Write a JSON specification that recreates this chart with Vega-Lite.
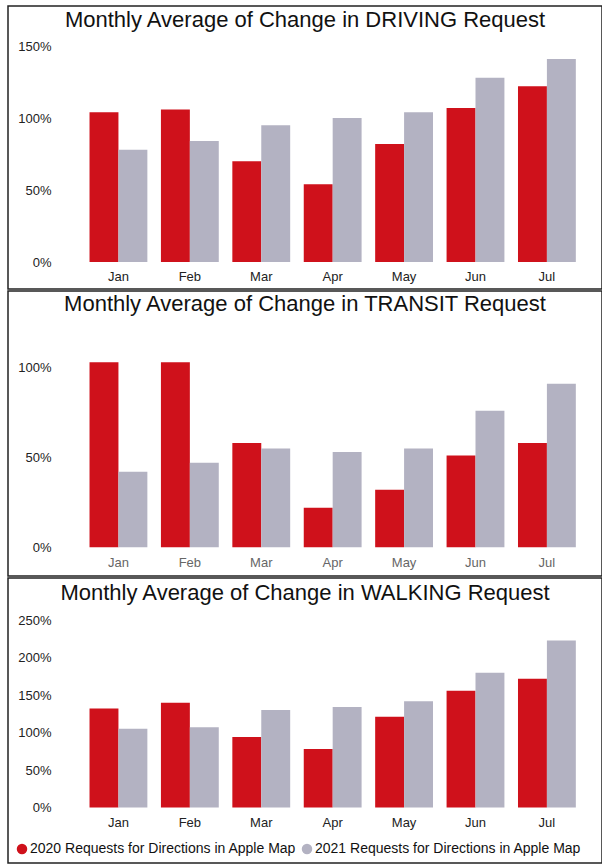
{
  "$schema": "https://vega.github.io/schema/vega-lite/v6.json",
  "background": "white",
  "padding": {"left": 7, "top": 5, "right": 0, "bottom": 2},
  "spacing": 0,
  "config": {
    "font": "Liberation Sans",
    "view": {"stroke": "#222", "strokeWidth": 1.5},
    "title": {"fontSize": 22, "fontWeight": "normal", "color": "#111", "anchor": "middle", "frame": "group", "baseline": "middle"},
    "axis": {"labelFont": "Liberation Sans", "labelColor": "#222", "labelFontSize": 13, "ticks": false, "tickSize": 0, "domain": false, "grid": false, "title": null},
    "bar": {"stroke": null}
  },
  "resolve": {"legend": {"color": "independent"}},
  "datasets": {
    "driving": [
      {"month": "Jan", "series": "2020 Requests for Directions in Apple Map", "value": 104},
      {"month": "Jan", "series": "2021 Requests for Directions in Apple Map", "value": 78},
      {"month": "Feb", "series": "2020 Requests for Directions in Apple Map", "value": 106},
      {"month": "Feb", "series": "2021 Requests for Directions in Apple Map", "value": 84},
      {"month": "Mar", "series": "2020 Requests for Directions in Apple Map", "value": 70},
      {"month": "Mar", "series": "2021 Requests for Directions in Apple Map", "value": 95},
      {"month": "Apr", "series": "2020 Requests for Directions in Apple Map", "value": 54},
      {"month": "Apr", "series": "2021 Requests for Directions in Apple Map", "value": 100},
      {"month": "May", "series": "2020 Requests for Directions in Apple Map", "value": 82},
      {"month": "May", "series": "2021 Requests for Directions in Apple Map", "value": 104},
      {"month": "Jun", "series": "2020 Requests for Directions in Apple Map", "value": 107},
      {"month": "Jun", "series": "2021 Requests for Directions in Apple Map", "value": 128},
      {"month": "Jul", "series": "2020 Requests for Directions in Apple Map", "value": 122},
      {"month": "Jul", "series": "2021 Requests for Directions in Apple Map", "value": 141}
    ],
    "transit": [
      {"month": "Jan", "series": "2020 Requests for Directions in Apple Map", "value": 103},
      {"month": "Jan", "series": "2021 Requests for Directions in Apple Map", "value": 42},
      {"month": "Feb", "series": "2020 Requests for Directions in Apple Map", "value": 103},
      {"month": "Feb", "series": "2021 Requests for Directions in Apple Map", "value": 47},
      {"month": "Mar", "series": "2020 Requests for Directions in Apple Map", "value": 58},
      {"month": "Mar", "series": "2021 Requests for Directions in Apple Map", "value": 55},
      {"month": "Apr", "series": "2020 Requests for Directions in Apple Map", "value": 22},
      {"month": "Apr", "series": "2021 Requests for Directions in Apple Map", "value": 53},
      {"month": "May", "series": "2020 Requests for Directions in Apple Map", "value": 32},
      {"month": "May", "series": "2021 Requests for Directions in Apple Map", "value": 55},
      {"month": "Jun", "series": "2020 Requests for Directions in Apple Map", "value": 51},
      {"month": "Jun", "series": "2021 Requests for Directions in Apple Map", "value": 76},
      {"month": "Jul", "series": "2020 Requests for Directions in Apple Map", "value": 58},
      {"month": "Jul", "series": "2021 Requests for Directions in Apple Map", "value": 91}
    ],
    "walking": [
      {"month": "Jan", "series": "2020 Requests for Directions in Apple Map", "value": 132},
      {"month": "Jan", "series": "2021 Requests for Directions in Apple Map", "value": 105},
      {"month": "Feb", "series": "2020 Requests for Directions in Apple Map", "value": 140},
      {"month": "Feb", "series": "2021 Requests for Directions in Apple Map", "value": 107},
      {"month": "Mar", "series": "2020 Requests for Directions in Apple Map", "value": 94},
      {"month": "Mar", "series": "2021 Requests for Directions in Apple Map", "value": 130},
      {"month": "Apr", "series": "2020 Requests for Directions in Apple Map", "value": 78},
      {"month": "Apr", "series": "2021 Requests for Directions in Apple Map", "value": 134},
      {"month": "May", "series": "2020 Requests for Directions in Apple Map", "value": 121},
      {"month": "May", "series": "2021 Requests for Directions in Apple Map", "value": 142},
      {"month": "Jun", "series": "2020 Requests for Directions in Apple Map", "value": 156},
      {"month": "Jun", "series": "2021 Requests for Directions in Apple Map", "value": 180},
      {"month": "Jul", "series": "2020 Requests for Directions in Apple Map", "value": 172},
      {"month": "Jul", "series": "2021 Requests for Directions in Apple Map", "value": 223}
    ]
  },
  "vconcat": [
    {
      "title": {"text": "Monthly Average of Change in DRIVING Request", "offset": -26},
      "width": 594,
      "height": 283,
      "data": {"name": "driving"},
      "mark": {"type": "bar"},
      "encoding": {
        "x": {"field": "month", "type": "nominal", "sort": ["Jan", "Feb", "Mar", "Apr", "May", "Jun", "Jul"],
              "scale": {"paddingInner": 0.19, "paddingOuter": 0.754, "align": 0.757},
              "axis": {"labelAngle": 0, "offset": -21, "labelPadding": 2}},
        "xOffset": {"field": "series", "type": "nominal", "scale": {"paddingInner": 0, "paddingOuter": 0}},
        "y": {"field": "value", "type": "quantitative",
              "scale": {"domain": [-18.7, 177.8], "nice": false, "zero": false},
              "axis": {"values": [0, 50, 100, 150], "labelExpr": "datum.value + '%'", "offset": -43, "labelPadding": 0}},
        "color": {"field": "series", "type": "nominal",
                  "scale": {"domain": ["2020 Requests for Directions in Apple Map", "2021 Requests for Directions in Apple Map"], "range": ["#cf111b", "#b3b2c2"]},
                  "legend": null}
      }
    },
    {
      "title": {"text": "Monthly Average of Change in TRANSIT Request", "offset": -25},
      "width": 594,
      "height": 285,
      "data": {"name": "transit"},
      "mark": {"type": "bar"},
      "encoding": {
        "x": {"field": "month", "type": "nominal", "sort": ["Jan", "Feb", "Mar", "Apr", "May", "Jun", "Jul"],
              "scale": {"paddingInner": 0.19, "paddingOuter": 0.754, "align": 0.757},
              "axis": {"labelAngle": 0, "offset": -22, "labelPadding": 2, "labelColor": "#666"}},
        "xOffset": {"field": "series", "type": "nominal", "scale": {"paddingInner": 0, "paddingOuter": 0}},
        "y": {"field": "value", "type": "quantitative",
              "scale": {"domain": [-16.0, 142.6], "nice": false, "zero": false},
              "axis": {"values": [0, 50, 100], "labelExpr": "datum.value + '%'", "offset": -43, "labelPadding": 0}},
        "color": {"field": "series", "type": "nominal",
                  "scale": {"domain": ["2020 Requests for Directions in Apple Map", "2021 Requests for Directions in Apple Map"], "range": ["#cf111b", "#b3b2c2"]},
                  "legend": null}
      }
    },
    {
      "title": {"text": "Monthly Average of Change in WALKING Request", "offset": -27},
      "width": 594,
      "height": 285,
      "data": {"name": "walking"},
      "mark": {"type": "bar"},
      "encoding": {
        "x": {"field": "month", "type": "nominal", "sort": ["Jan", "Feb", "Mar", "Apr", "May", "Jun", "Jul"],
              "scale": {"paddingInner": 0.19, "paddingOuter": 0.754, "align": 0.757},
              "axis": {"labelAngle": 0, "offset": -49, "labelPadding": 2}},
        "xOffset": {"field": "series", "type": "nominal", "scale": {"paddingInner": 0, "paddingOuter": 0}},
        "y": {"field": "value", "type": "quantitative",
              "scale": {"domain": [-74.0, 306.3], "nice": false, "zero": false},
              "axis": {"values": [0, 50, 100, 150, 200, 250], "labelExpr": "datum.value + '%'", "offset": -43, "labelPadding": 0}},
        "color": {"field": "series", "type": "nominal",
                  "scale": {"domain": ["2020 Requests for Directions in Apple Map", "2021 Requests for Directions in Apple Map"], "range": ["#cf111b", "#b3b2c2"]},
                  "legend": {"orient": "bottom-left", "direction": "horizontal", "title": null, "offset": 7, "padding": 0,
                             "symbolType": "circle", "symbolSize": 110, "symbolStrokeWidth": 0,
                             "labelFontSize": 14, "labelColor": "#111", "labelOffset": 1, "columnPadding": 3, "labelLimit": 0}}
      }
    }
  ]
}
